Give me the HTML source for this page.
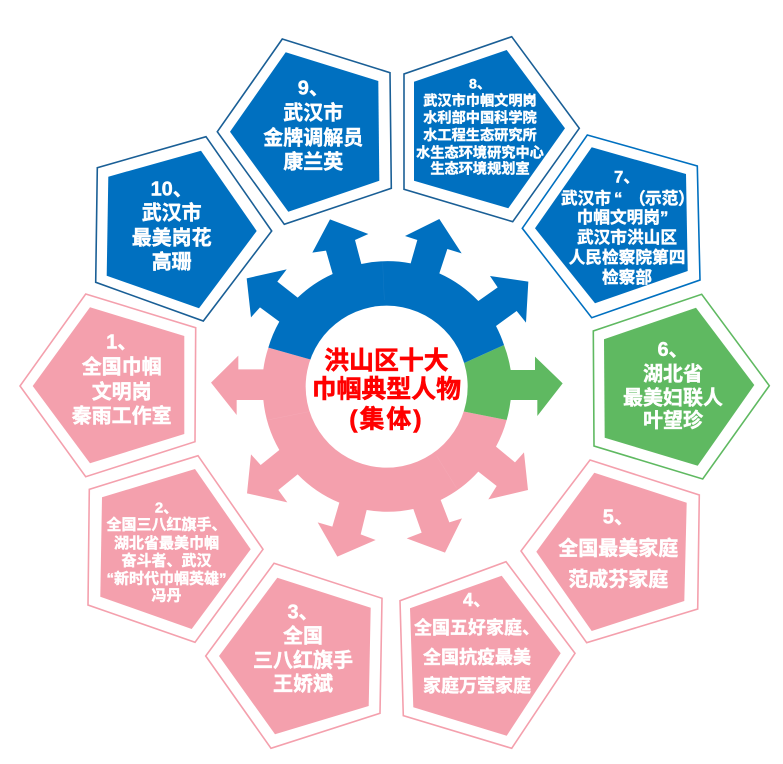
<!DOCTYPE html>
<html lang="zh">
<head>
<meta charset="utf-8">
<title>洪山区十大巾帼典型人物</title>
<style>
html,body{margin:0;padding:0;background:#fff;width:783px;height:764px;overflow:hidden}
svg{display:block}
text{font-family:"Liberation Sans","Noto Sans CJK SC",sans-serif;font-weight:700;fill:#fff;text-anchor:middle;stroke:#fff;stroke-width:.4}
text.c{fill:#f00;stroke:#f00;stroke-width:.55}
</style>
</head>
<body>
<svg width="783" height="764" viewBox="0 0 783 764" xmlns="http://www.w3.org/2000/svg">
<rect width="783" height="764" fill="#fff"/>

<!-- gear, coordinates at 3x -->
<g transform="translate(200 200) scale(.33333)">
<path fill="#f4a0ad" d="M560 560L793 635L920 660A373 373 0 0 1 888 740L945 787L972 757L984 870L865 898L890 858L835 815A373 373 0 0 1 722 900L748 967L786 955L735 1058L620 1015L665 998L640 927A373 373 0 0 1 500 930L482 1003L527 1020L412 1070L353 967L397 980L418 908A373 373 0 0 1 293 823L235 870L262 907L141 880L153 763L182 795L238 750A373 373 0 0 1 190 600L110 600L110 645L33 548L115 467L115 508L190 508A373 373 0 0 1 205 443L330 478Z"/>
<path fill="#5fb961" d="M560 560L795 488L912 435A373 373 0 0 1 932 510L1005 510L1005 470L1088 550L1012 648L1012 600L932 600A373 373 0 0 1 920 660L793 635Z"/>
<path fill="#0070c0" d="M560 560L330 478L205 443A373 373 0 0 1 238 365L180 322L153 352L140 235L260 208L232 245L293 293A373 373 0 0 1 398 222L378 152L337 158L390 58L505 102L465 120L484 192A373 373 0 0 1 632 190L652 120L615 108L718 57L785 160L742 147L718 220A373 373 0 0 1 835 303L893 262L870 228L985 245L978 368L950 333L888 378A373 373 0 0 1 912 435L795 488Z"/>
<path stroke="#2f86c8" stroke-opacity=".6" stroke-width="1" fill="none" d="M548 188L553 300"/>
<path stroke="#f8bcc6" stroke-opacity=".5" stroke-width="1" fill="none" d="M203 660L327 635M710 768L770 865"/>
<circle cx="560" cy="560" r="243" fill="#fff"/>
</g>

<!-- outer outlines -->
<g fill="none" stroke-width="1.6" stroke-linejoin="miter">
<polygon stroke="#1a5f96" points="282.3,39 390,72.7 391.3,188.3 284.3,224.3 217.3,131.7"/>
<polygon stroke="#1a5f96" points="206,136.7 271.7,231 203.3,321 95.7,282.3 97.3,167.7"/>
<polygon stroke="#1a5f96" points="511.7,36.7 579.3,128.3 512.7,221.7 404,189.3 404,74"/>
<polygon stroke="#0070c0" points="587.3,135 697.3,166 700,280 591.7,317.7 522.3,228.3"/>
<polygon stroke="#5fb961" points="701.7,294.3 769.3,385.7 702.7,479 594,446 593.3,331"/>
<polygon stroke="#f4a0ad" points="590,460 699.3,495 697.7,609 586.7,642.7 521,551"/>
<polygon stroke="#f4a0ad" points="506,561.7 575,653.3 511.7,748.3 403.3,715.7 400,600.7"/>
<polygon stroke="#f4a0ad" points="274,563.3 382,598.3 380,713.3 271,748.3 205.7,656"/>
<polygon stroke="#f4a0ad" points="198,455.7 263,549.3 195,642.3 88,605 89.3,489.3"/>
<polygon stroke="#f4a0ad" points="85.7,294 195.7,327.7 195,441.7 85.7,476.7 20,386"/>
</g>

<!-- inner pentagons -->
<polygon fill="#0070c0" points="285.7,52.3 378.3,81 379.3,180.7 288.3,211.7 230,131.7"/>
<polygon fill="#0070c0" points="201,150.7 256.7,231 199,308.3 106.7,275.7 108.3,176.7"/>
<polygon fill="#0070c0" points="506.7,50 565,128.3 508.3,208.3 414,180.7 414,81.7"/>
<polygon fill="#0070c0" points="591.7,147.3 686,174 687.7,271 595,303.3 535,228.3"/>
<polygon fill="#5fb961" points="696,307.7 754.3,385 697.7,465.7 604.7,437.7 604,339.3"/>
<polygon fill="#f4a0ad" points="594.3,472.7 686.7,502.7 684.3,601 591.7,631 536.3,551.7"/>
<polygon fill="#f4a0ad" points="501.7,575.7 560.7,653.3 506.7,735.7 413.3,707.3 410,608.3"/>
<polygon fill="#f4a0ad" points="277.3,577.7 370.7,607.7 368.7,706 275,734.3 219,656"/>
<polygon fill="#f4a0ad" points="195,469 250.7,549.3 191.7,629 100.3,596.7 102,497.3"/>
<polygon fill="#f4a0ad" points="90,307.3 184.3,336 184.3,434 90,463.3 32.7,386"/>

<!-- centre -->
<g font-size="24.9">
<text class="c" x="386.4" y="369">洪山区十大</text>
<text class="c" x="386.4" y="397.6">巾帼典型人物</text>
<text class="c" x="386.4" y="427.6" letter-spacing="2">(集体)</text>
</g>

<!-- 9 -->
<g font-size="20">
<text x="313.3" y="94.6">9、</text>
<text x="313.3" y="119.6">武汉市</text>
<text x="313.3" y="144.3">金牌调解员</text>
<text x="313.3" y="168.6">康兰英</text>
</g>
<!-- 10 -->
<g font-size="20">
<text x="171.7" y="195.3">10、</text>
<text x="171.7" y="219.6">武汉市</text>
<text x="171.7" y="244.3">最美岗花</text>
<text x="171.7" y="268.3">高珊</text>
</g>
<!-- 8 -->
<g font-size="14.2">
<text x="480" y="88.6">8、</text>
<text x="480" y="105.3">武汉市巾帼文明岗</text>
<text x="480" y="122.6">水利部中国科学院</text>
<text x="480" y="140">水工程生态研究所</text>
<text x="480" y="157.3">水生态环境研究中心</text>
<text x="480" y="173.6">生态环境规划室</text>
</g>
<!-- 7 -->
<g font-size="16.7">
<text x="627" y="182.3">7、</text>
<text x="561" y="204" style="text-anchor:start"><tspan>武汉市</tspan><tspan x="614">“</tspan><tspan x="629">（</tspan><tspan x="645">示范</tspan><tspan x="678">）</tspan></text>
<text x="622.5" y="223">巾帼文明岗”</text>
<text x="627" y="243">武汉市洪山区</text>
<text x="627" y="263">人民检察院第四</text>
<text x="627" y="283">检察部</text>
</g>
<!-- 6 -->
<g font-size="20">
<text x="673" y="356">6、</text>
<text x="673" y="380.3">湖北省</text>
<text x="673" y="404.3">最美妇联人</text>
<text x="673" y="427">叶望珍</text>
</g>
<!-- 5 -->
<g font-size="20">
<text x="618.3" y="523.6">5、</text>
<text x="618.3" y="555">全国最美家庭</text>
<text x="618.3" y="586">范成芬家庭</text>
</g>
<!-- 4 -->
<g font-size="18">
<text x="477" y="606">4、</text>
<text x="477" y="634">全国五好家庭、</text>
<text x="477" y="663.5">全国抗疫最美</text>
<text x="477" y="691.8">家庭万莹家庭</text>
</g>
<!-- 3 -->
<g font-size="20">
<text x="303" y="618.3">3、</text>
<text x="303" y="642.6">全国</text>
<text x="303" y="667">三八红旗手</text>
<text x="303" y="690.3">王娇斌</text>
</g>
<!-- 2 -->
<g font-size="15">
<text x="166.5" y="512.4">2、</text>
<text x="166.5" y="529.7">全国三八红旗手、</text>
<text x="166.5" y="548">湖北省最美巾帼</text>
<text x="166.5" y="565.7">奋斗者、武汉</text>
<text x="166.5" y="583.4">“新时代巾帼英雄”</text>
<text x="166.5" y="600.7">冯丹</text>
</g>
<!-- 1 -->
<g font-size="20">
<text x="121.7" y="348.6">1、</text>
<text x="121.7" y="373.6">全国巾帼</text>
<text x="121.7" y="398.3">文明岗</text>
<text x="121.7" y="422.6">秦雨工作室</text>
</g>
</svg>
</body>
</html>
